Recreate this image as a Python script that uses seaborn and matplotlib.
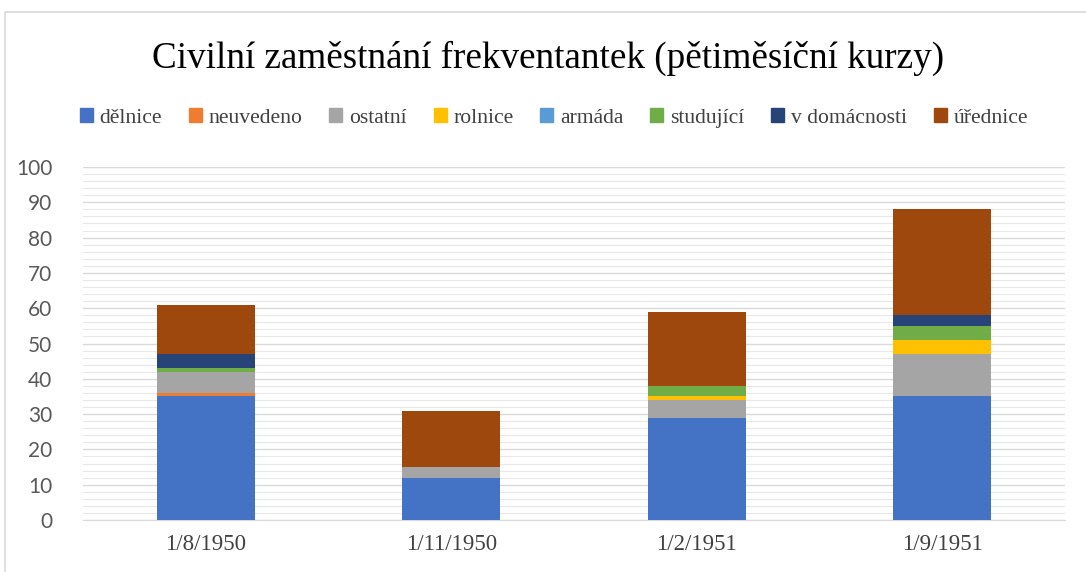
import matplotlib
matplotlib.use("Agg")
import matplotlib.pyplot as plt
import seaborn as sns
import pandas as pd
import numpy as np
from matplotlib.patches import Patch, Rectangle
from matplotlib.ticker import MultipleLocator

# ---------- DATA ----------
dates = ["1/8/1950", "1/11/1950", "1/2/1951", "1/9/1951"]
categories = ["dělnice", "neuvedeno", "ostatní", "rolnice", "armáda",
              "studující", "v domácnosti", "úřednice"]
delnice = [35, 12, 29, 35]
neuvedeno = [1, 0, 0, 0]
ostatni = [6, 3, 5, 12]
rolnice = [0, 0, 1, 4]
armada = [0, 0, 0, 0]
studujici = [1, 0, 3, 4]
domacnost = [4, 0, 0, 3]
urednice = [14, 16, 21, 30]
colors = ["#4472C4", "#ED7D31", "#A5A5A5", "#FFC000",
          "#5B9BD5", "#70AD47", "#264478", "#9E480E"]

series = [delnice, neuvedeno, ostatni, rolnice, armada, studujici, domacnost, urednice]
df = pd.DataFrame(dict(zip(categories, series)), index=dates)
cum = df.cumsum(axis=1)

# ---------- PLOT ----------
sns.set_style("white")
fig = plt.figure(figsize=(10.86, 5.72), dpi=100)
ax = fig.add_axes([83 / 1086, 1 - 520 / 572, (1065 - 83) / 1086, (520 - 167) / 572])

# stacked bars: draw cumulative totals from the top series down
for cat, col in reversed(list(zip(categories, colors))):
    sns.barplot(x=dates, y=cum[cat].values, color=col, width=0.4,
                saturation=1, linewidth=0, ax=ax, zorder=3)

ax.set_ylim(0, 100)
ax.yaxis.set_major_locator(MultipleLocator(10))
ax.yaxis.set_minor_locator(MultipleLocator(2))
ax.grid(axis="y", which="major", color="#D9D9D9", linewidth=1.0, zorder=0)
ax.grid(axis="y", which="minor", color="#E8E8E8", linewidth=0.8, zorder=0)
ax.set_axisbelow(True)
for s in ["top", "right", "left"]:
    ax.spines[s].set_visible(False)
ax.spines["bottom"].set_color("#D9D9D9")
ax.tick_params(axis="x", length=0, pad=10)
ax.tick_params(axis="y", which="both", length=0, pad=22)
ax.set_xlabel("")
ax.set_ylabel("")
for t in ax.get_yticklabels():
    t.set_fontfamily("Lato")
    t.set_fontsize(15)
    t.set_color("#595959")
for t in ax.get_xticklabels():
    t.set_fontfamily("Liberation Serif")
    t.set_fontsize(16.5)
    t.set_color("#404040")

fig.text(0.505, 1 - 58 / 572, "Civilní zaměstnání frekventantek (pětiměsíční kurzy)",
         ha="center", va="center", fontsize=26.7, family="Liberation Serif", color="#000000")

handles = [Patch(facecolor=c, edgecolor=c) for c in colors]
fig.legend(handles, categories, loc="center", bbox_to_anchor=(0.51, 1 - 118 / 572),
           ncol=8, frameon=False, handlelength=0.6, handleheight=0.6,
           handletextpad=0.3, columnspacing=1.25,
           prop={"family": "Liberation Serif", "size": 15.6})
for t in fig.legends[0].get_texts():
    t.set_color("#404040")

fig.patches.append(Rectangle((5 / 1086, -0.01), 1.2, 1 - 12 / 572 + 0.01,
                             transform=fig.transFigure, fill=False,
                             edgecolor="#D9D9D9", linewidth=1.2))

plt.savefig("out.png", dpi=100)
